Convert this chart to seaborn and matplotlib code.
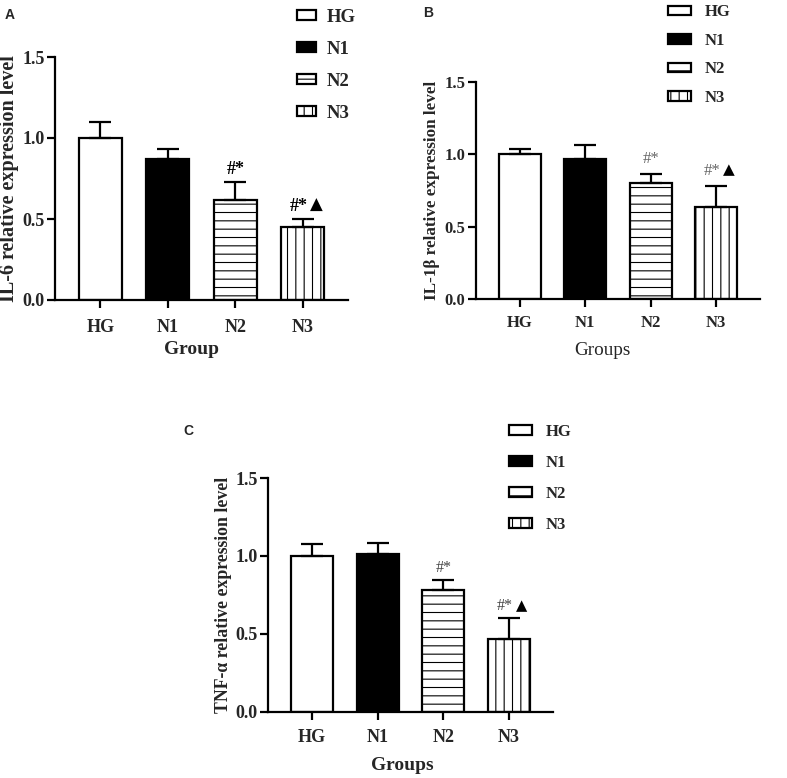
import matplotlib
matplotlib.use('Agg')
import matplotlib.pyplot as plt
import numpy as np
import pandas as pd
import seaborn as sns

groups = ['HG', 'N1', 'N2', 'N3']
marks = ['', '', '#*', '#*']
tri = [False, False, False, True]

il6_mean = [1.00, 0.87, 0.62, 0.45]
il6_sd = [0.10, 0.065, 0.11, 0.05]

il1b_mean = [1.00, 0.97, 0.80, 0.635]
il1b_sd = [0.035, 0.095, 0.065, 0.145]

tnf_mean = [1.00, 1.01, 0.785, 0.465]
tnf_sd = [0.075, 0.075, 0.06, 0.135]

colors = {'HG': 'white', 'N1': 'black', 'N2': 'white', 'N3': 'white'}
hatches = ['', '', '--', '||']

sns.set_style('ticks')
plt.rcParams['font.family'] = ['Liberation Serif', 'DejaVu Sans']
plt.rcParams['hatch.linewidth'] = 0.8
plt.rcParams['hatch.color'] = '#333333'

fig = plt.figure(figsize=(7.87, 7.78), dpi=100)

# per panel: axes box and legend anchor in pixels, font sizes and styles
panels = [
    dict(mean=il6_mean, sd=il6_sd, letter='A', lpos=(10, 15),
         rect=(55, 57, 348, 300), leg=(297, 65), fs=13, lfs=14.5, xlfs=14, legfs=13.5,
         ylabel='IL-6 relative expression level', xlabel='Group', xbold=True, xlx=0.466,
         mcolor='black', mweight='bold', mfs=13, ylpad=2, xlpad=3, xtpad=8.5,
         hl=1.0, hh=0.5, ls=0.8, htp=0.6, moff=0.025),
    dict(mean=il1b_mean, sd=il1b_sd, letter='B', lpos=(428, 13),
         rect=(476, 82, 760, 299), leg=(668, 55), fs=12, lfs=12.3, xlfs=13.8, legfs=12,
         ylabel='IL-1β relative expression level', xlabel='Groups', xbold=False, xlx=0.444,
         mcolor='#666666', mweight='normal', mfs=12, ylpad=3, xlpad=8, xtpad=6,
         hl=1.4, hh=0.5, ls=0.75, htp=0.8, moff=0.05),
    dict(mean=tnf_mean, sd=tnf_sd, letter='C', lpos=(188, 431),
         rect=(268, 478, 553, 712), leg=(509, 478.5), fs=13, lfs=12.8, xlfs=14, legfs=12,
         ylabel='TNF-α relative expression level', xlabel='Groups', xbold=True, xlx=0.472,
         mcolor='#444444', mweight='normal', mfs=11.5, ylpad=2.5, xlpad=8, xtpad=7,
         hl=1.4, hh=0.5, ls=0.9, htp=0.8, moff=0.025),
]

W, H = 787, 778
for p in panels:
    x0, y0, x1, y1 = p['rect']
    ax = fig.add_axes([x0 / W, 1 - y1 / H, (x1 - x0) / W, (y1 - y0) / H])
    df = pd.DataFrame({'group': groups, 'value': p['mean']})
    sns.barplot(data=df, x='group', y='value', hue='group', palette=colors,
                edgecolor='black', linewidth=1.6, width=0.64, errorbar=None,
                legend=False, ax=ax)
    bars = [c.patches[0] for c in ax.containers]
    for b, h in zip(bars, hatches):
        b.set_hatch(h)
    xs = [b.get_x() + b.get_width() / 2 for b in bars]
    ax.errorbar(xs, p['mean'], yerr=[np.zeros(4), p['sd']], fmt='none',
                ecolor='black', elinewidth=1.6, capsize=8, capthick=1.6, zorder=1)

    for x, m, s, t, tr in zip(xs, p['mean'], p['sd'], marks, tri):
        if not t:
            continue
        top = m + s + p['moff']
        if tr:
            ax.annotate(t, (x, top), xytext=(-3, 0), textcoords='offset points',
                        ha='center', va='bottom', fontsize=p['mfs'],
                        color=p['mcolor'], fontweight=p['mweight'])
            ax.annotate('▲', (x, top), xytext=(5, 1), textcoords='offset points',
                        ha='left', va='bottom', fontsize=p['mfs'] - 1, color='black',
                        family='DejaVu Sans')
        else:
            ax.text(x, top, t, ha='center', va='bottom', fontsize=p['mfs'],
                    color=p['mcolor'], fontweight=p['mweight'])

    ax.set_ylim(0, 1.5)
    ax.set_xlim(-0.67, 3.67)
    ax.set_yticks([0, 0.5, 1.0, 1.5])
    ax.set_yticklabels(['0.0', '0.5', '1.0', '1.5'])
    for lab in ax.get_xticklabels() + ax.get_yticklabels():
        lab.set_fontweight('bold')
        lab.set_fontsize(p['fs'])
    ax.tick_params(width=1.6, length=5.5, color='black')
    ax.tick_params(axis='y', pad=2)
    ax.tick_params(axis='x', pad=p['xtpad'])
    for sp in ['left', 'bottom']:
        ax.spines[sp].set_linewidth(1.6)
        ax.spines[sp].set_color('black')
    sns.despine(ax=ax)
    ax.set_ylabel(p['ylabel'], fontsize=p['lfs'], fontweight='bold', labelpad=p['ylpad'])
    ax.set_xlabel(p['xlabel'], fontsize=p['xlfs'],
                  fontweight='bold' if p['xbold'] else 'normal', labelpad=p['xlpad'])
    ax.xaxis.label.set_x(p['xlx'])

    lx, ly = p['leg']
    fig.legend(bars, groups, loc='center left', bbox_to_anchor=(lx / W, 1 - ly / H),
               frameon=False, borderpad=0, borderaxespad=0, handlelength=p['hl'],
               handleheight=p['hh'], handletextpad=p['htp'], labelspacing=p['ls'],
               prop={'weight': 'bold', 'size': p['legfs'], 'family': 'Liberation Serif'})

    fig.text(p['lpos'][0] / W, 1 - p['lpos'][1] / H, p['letter'], ha='center',
             va='center', fontsize=10, fontweight='bold', family='Liberation Sans')

fig.savefig('out.png', dpi=100)
